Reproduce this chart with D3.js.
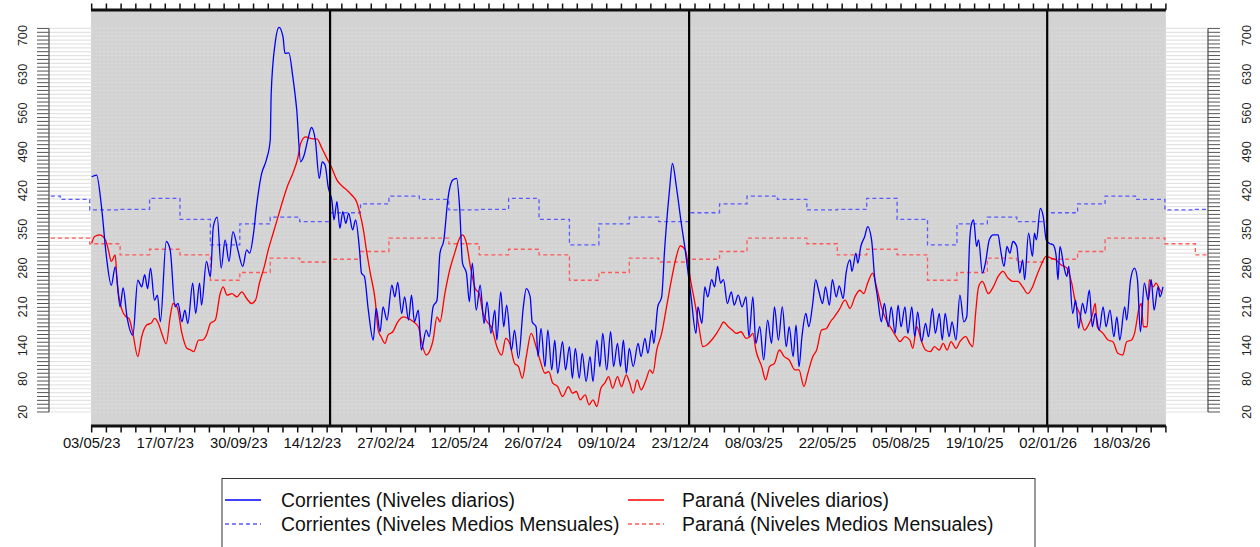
<!DOCTYPE html>
<html><head><meta charset="utf-8">
<script src="https://cdn.jsdelivr.net/npm/d3@7"></script>
<style>
body{margin:0;background:#fff}
svg{display:block;font-family:"Liberation Sans",Arial,Helvetica,sans-serif}
</style>
</head><body>
<svg id="chart" width="1260" height="547"></svg>
<script>
// ---------------- DATA ----------------
const seriesStart = "2023-05-03";            // day 0 of the daily series
const domainStart = "2023-05-02";
const domainEnd   = "2026-05-02";
// [day since seriesStart, level cm]
const corrientesDaily = [[0,445],[5,448],[10,391],[15,301],[20,249],[24,282],[29,210],[32,244],[36,192],[42,159],[47,258],[51,246],[54,268],[57,243],[60,280],[64,222],[67,231],[70,183],[76,328],[80,313],[85,210],[88,216],[92,183],[95,204],[98,180],[103,253],[106,198],[110,253],[112,213],[117,292],[121,264],[124,355],[128,372],[132,280],[136,331],[140,292],[144,346],[149,313],[154,283],[158,313],[161,307],[165,343],[168,391],[173,449],[178,475],[182,511],[183,596],[187,686],[191,715],[195,698],[197,668],[201,669],[205,626],[209,566],[213,472],[216,481],[221,517],[224,534],[228,511],[232,442],[235,472],[238,466],[241,427],[245,400],[247,367],[250,400],[253,352],[256,382],[259,361],[262,379],[266,349],[269,367],[273,313],[275,271],[278,265],[282,204],[287,150],[290,207],[294,165],[297,210],[301,186],[306,249],[309,228],[312,254],[316,198],[319,228],[323,186],[326,231],[329,183],[333,204],[336,132],[341,168],[344,156],[348,210],[352,222],[355,307],[359,331],[363,403],[368,439],[372,442],[375,391],[378,289],[382,271],[385,219],[388,289],[392,204],[396,249],[400,180],[403,219],[407,162],[411,204],[413,150],[417,237],[420,174],[423,213],[428,132],[431,168],[435,117],[440,210],[443,243],[447,228],[449,183],[453,174],[455,120],[458,171],[462,102],[465,168],[469,96],[472,150],[475,90],[480,147],[483,96],[487,138],[490,81],[493,135],[497,81],[500,126],[504,75],[508,120],[511,75],[515,150],[518,102],[521,162],[525,96],[529,165],[532,102],[536,144],[539,102],[542,150],[545,90],[548,135],[552,102],[557,144],[560,120],[564,153],[567,126],[571,168],[573,144],[577,210],[581,228],[584,313],[589,421],[592,469],[596,427],[601,361],[605,313],[608,271],[611,228],[616,162],[618,210],[622,180],[625,246],[628,228],[632,259],[635,246],[638,283],[641,253],[644,259],[648,216],[652,237],[655,213],[659,231],[663,210],[667,228],[670,156],[674,228],[677,144],[681,174],[685,114],[689,186],[693,144],[696,210],[700,150],[704,210],[708,138],[711,174],[715,120],[718,177],[721,102],[724,156],[728,198],[731,174],[735,216],[738,259],[741,240],[745,216],[748,246],[752,213],[755,259],[759,228],[762,248],[766,225],[769,271],[773,295],[775,274],[779,307],[781,289],[784,319],[788,337],[791,355],[795,331],[798,265],[801,228],[805,183],[808,216],[812,174],[815,210],[819,162],[822,213],[825,174],[829,210],[832,162],[836,210],[839,156],[842,201],[846,147],[850,180],[853,156],[857,207],[860,162],[864,198],[867,150],[870,198],[874,156],[877,183],[881,150],[885,231],[889,183],[892,192],[895,331],[897,361],[899,367],[902,319],[904,331],[908,271],[911,289],[915,331],[919,340],[924,340],[926,319],[930,283],[933,319],[936,307],[939,328],[943,319],[946,271],[949,295],[951,259],[955,343],[959,301],[961,343],[963,331],[967,388],[970,373],[973,331],[976,325],[980,322],[983,304],[985,259],[987,319],[991,283],[994,265],[996,283],[1000,198],[1003,222],[1006,171],[1010,216],[1013,198],[1017,240],[1020,174],[1023,198],[1027,168],[1031,210],[1034,174],[1038,204],[1042,156],[1045,192],[1048,150],[1053,210],[1055,186],[1059,259],[1063,280],[1066,259],[1069,165],[1073,253],[1077,222],[1080,259],[1083,204],[1087,246],[1089,228],[1092,246]];
const paranaDaily = [[0,325],[3,337],[8,340],[14,331],[17,313],[20,292],[24,304],[26,253],[31,204],[35,192],[38,189],[42,162],[47,120],[51,156],[56,177],[61,181],[64,189],[68,180],[72,159],[76,143],[80,192],[83,216],[87,210],[92,162],[97,135],[101,132],[104,129],[109,150],[113,150],[117,159],[121,180],[126,186],[131,234],[134,246],[138,231],[143,234],[148,228],[153,237],[158,225],[163,216],[167,222],[171,253],[176,283],[180,313],[185,343],[190,373],[195,403],[200,430],[205,451],[210,478],[213,505],[218,517],[224,514],[230,513],[234,499],[239,481],[245,460],[250,439],[256,427],[260,421],[265,412],[270,400],[273,382],[277,349],[280,313],[284,271],[289,222],[292,168],[295,156],[299,144],[302,159],[307,165],[312,183],[318,192],[323,189],[328,183],[333,174],[337,141],[341,123],[345,132],[348,150],[352,192],[355,183],[360,234],[365,277],[370,307],[375,334],[378,340],[382,325],[386,283],[391,243],[395,234],[399,198],[403,183],[408,171],[413,138],[418,123],[422,153],[426,144],[431,108],[435,102],[439,81],[443,120],[448,162],[453,138],[457,114],[462,90],[466,93],[470,72],[475,66],[480,48],[486,66],[490,54],[494,57],[498,42],[503,51],[507,33],[511,42],[515,30],[519,63],[523,72],[527,84],[531,63],[536,84],[540,66],[545,87],[548,75],[552,54],[556,78],[560,60],[565,78],[569,96],[572,90],[576,132],[581,162],[586,210],[591,259],[596,301],[600,320],[605,313],[608,286],[611,253],[615,216],[619,174],[623,138],[627,141],[632,150],[637,162],[641,174],[644,183],[649,174],[653,168],[657,162],[662,165],[667,153],[671,156],[674,162],[677,132],[683,102],[687,78],[691,102],[696,108],[701,132],[706,120],[711,114],[717,96],[721,96],[726,66],[730,90],[735,120],[739,132],[744,168],[749,171],[753,183],[757,192],[762,205],[768,222],[773,207],[778,228],[783,240],[787,234],[791,253],[796,271],[800,246],[805,210],[810,186],[815,171],[820,156],[824,147],[829,156],[834,150],[837,135],[841,174],[846,147],[850,132],[855,129],[859,138],[864,132],[868,144],[872,132],[876,147],[881,135],[885,147],[891,156],[895,144],[898,138],[901,198],[904,246],[908,256],[914,234],[919,246],[924,265],[929,274],[934,262],[939,256],[944,256],[949,246],[954,234],[959,246],[963,265],[968,286],[973,301],[978,298],[983,295],[988,286],[994,280],[999,253],[1003,216],[1007,198],[1012,168],[1016,177],[1020,195],[1023,216],[1025,174],[1031,162],[1036,150],[1041,147],[1046,126],[1051,123],[1055,147],[1060,150],[1063,162],[1068,210],[1070,216],[1072,174],[1076,174],[1078,259],[1082,246],[1085,253],[1089,240],[1091,234]];
// long-term monthly mean levels, Jan..Dec
const corrientesMonthly = [380,396,410,404,385,386,406,368,322,360,372,364];
const paranaMonthly     = [296,310,334,334,324,304,314,304,258,272,298,291];
const monthlyFrom = "2023-03-01";
const monthlyTo   = "2026-07-01";
const yTickLabels = [20,80,140,210,280,350,420,490,560,630,700];
const yMinorFrom = 20, yMinorTo = 713, yMinorStep = 7;
const xTickStepDays = 15, xLabelEvery = 5;
const yearLines = ["2024-01-01","2025-01-01","2026-01-01"];
const legendItems = [
  {label:"Corrientes (Niveles diarios)", color:"#0000ff", dash:null},
  {label:"Corrientes (Niveles Medios Mensuales)", color:"#5a5aff", dash:"4,3"},
  {label:"Paraná (Niveles diarios)", color:"#ff0000", dash:null},
  {label:"Paraná (Niveles Medios Mensuales)", color:"#ff5a5a", dash:"4,3"}
];

// ---------------- LAYOUT ----------------
const svg = d3.select("#chart");
const P = {left:91, right:1165.9, top:10, bottom:426};
const axL = 49, axR = 1208;

const parse = d3.utcParse("%Y-%m-%d");
const x = d3.scaleUtc().domain([parse(domainStart), parse(domainEnd)]).range([90.7, 1165.9]);
const y = d3.scaleLinear().domain([-5.3, 746.3]).range([P.bottom, P.top]);
const t0 = parse(seriesStart);
const toPts = arr => arr.map(([d,v]) => ({date:d3.utcDay.offset(t0,d), v}));

const defs = svg.append("defs");
defs.append("clipPath").attr("id","plotClip").append("rect")
  .attr("x",P.left).attr("y",P.top).attr("width",P.right-P.left).attr("height",P.bottom-P.top);
defs.append("clipPath").attr("id","wideClip").append("rect")
  .attr("x",axL).attr("y",0).attr("width",axR-axL).attr("height",547);

const yMinor = d3.range(yMinorFrom, yMinorTo+0.1, yMinorStep);

// grid outside plot (on white)
const gOut = svg.append("g");
yMinor.forEach(v=>{
  gOut.append("line").attr("x1",axL).attr("x2",P.left).attr("y1",y(v)).attr("y2",y(v))
    .attr("stroke","#e3e3e3").attr("stroke-width",1.2);
  gOut.append("line").attr("x1",P.right).attr("x2",axR).attr("y1",y(v)).attr("y2",y(v))
    .attr("stroke","#e3e3e3").attr("stroke-width",1.2);
});
// plot background
svg.append("rect").attr("x",P.left).attr("y",P.top).attr("width",P.right-P.left).attr("height",P.bottom-P.top)
  .attr("fill","#d3d3d3");
// grid inside plot
const gIn = svg.append("g");
yMinor.forEach(v=>{
  gIn.append("line").attr("x1",P.left).attr("x2",P.right).attr("y1",y(v)).attr("y2",y(v))
    .attr("stroke","#dddddd").attr("stroke-width",1).attr("stroke-dasharray","2,2");
});

// monthly means (step)
function monthly(clim){
  return d3.utcMonth.range(parse(monthlyFrom), d3.utcMonth.offset(parse(monthlyTo),1))
    .map(m=>({date:m, v:clim[m.getUTCMonth()]}));
}
const stepLine = d3.line().x(d=>x(d.date)).y(d=>y(d.v)).curve(d3.curveStepAfter);
const gM = svg.append("g").attr("clip-path","url(#wideClip)");
gM.append("path").attr("d",stepLine(monthly(corrientesMonthly))).attr("fill","none")
  .attr("stroke","#5a5aff").attr("stroke-width",1.3).attr("stroke-dasharray","4,3");
gM.append("path").attr("d",stepLine(monthly(paranaMonthly))).attr("fill","none")
  .attr("stroke","#ff5a5a").attr("stroke-width",1.3).attr("stroke-dasharray","4,3");

// daily lines
const line = d3.line().x(d=>x(d.date)).y(d=>y(d.v)).curve(d3.curveMonotoneX);
const gD = svg.append("g").attr("clip-path","url(#plotClip)");
gD.append("path").attr("d",line(toPts(paranaDaily))).attr("fill","none")
  .attr("stroke","#ff0000").attr("stroke-width",1.3).attr("stroke-linejoin","round");
gD.append("path").attr("d",line(toPts(corrientesDaily))).attr("fill","none")
  .attr("stroke","#0000ff").attr("stroke-width",1.3).attr("stroke-linejoin","round");

// year separators
yearLines.forEach(s=>{
  svg.append("line").attr("x1",x(parse(s))).attr("x2",x(parse(s))).attr("y1",P.top).attr("y2",P.bottom)
    .attr("stroke","#000").attr("stroke-width",2.2);
});

// x axes (top & bottom)
const xTicks = d3.utcDay.range(t0, d3.utcDay.offset(parse(domainEnd),1), xTickStepDays);
const fmt = d3.utcFormat("%d/%m/%y");
[[P.bottom,1],[P.top,-1]].forEach(([yy,dir])=>{
  const g = svg.append("g");
  g.append("line").attr("x1",P.left).attr("x2",P.right).attr("y1",yy).attr("y2",yy)
    .attr("stroke","#111").attr("stroke-width",3);
  xTicks.forEach(t=>{
    g.append("line").attr("x1",x(t)).attr("x2",x(t)).attr("y1",yy).attr("y2",yy+dir*6.5)
      .attr("stroke","#111").attr("stroke-width",1.5);
  });
});
const gXL = svg.append("g");
xTicks.forEach((t,i)=>{
  if(i % xLabelEvery === 0){
    gXL.append("text").attr("x",x(t)).attr("y",448).attr("text-anchor","middle")
      .attr("font-size",14.8).attr("fill","#111").text(fmt(t));
  }
});

// y axes (left and right, detached)
function yAxis(ax, dir, labX){
  const g = svg.append("g");
  g.append("line").attr("x1",ax).attr("x2",ax).attr("y1",y(yMinorFrom)).attr("y2",y(yMinor[yMinor.length-1]))
    .attr("stroke","#555").attr("stroke-width",1.3);
  yMinor.forEach(v=>{
    g.append("line").attr("x1",ax).attr("x2",ax+dir*12).attr("y1",y(v)).attr("y2",y(v))
      .attr("stroke","#555").attr("stroke-width",1);
  });
  yTickLabels.forEach(v=>{
    g.append("text").attr("transform",`translate(${labX},${y(v)}) rotate(-90)`)
      .attr("text-anchor","middle").attr("dy","0.36em").attr("font-size",12.8).attr("fill","#222").text(v);
  });
}
yAxis(axL,-1,22);
yAxis(axR,1,1246);

// legend
const lg = svg.append("g");
lg.append("rect").attr("x",222).attr("y",478.5).attr("width",813).attr("height",90)
  .attr("fill","#fff").attr("stroke","#333").attr("stroke-width",1);
const cols = [[225,281],[628,682]], rows=[500,524];
legendItems.forEach((it,i)=>{
  const c = cols[Math.floor(i/2)], r = rows[i%2];
  const l = lg.append("line").attr("x1",c[0]).attr("x2",c[0]+36).attr("y1",r).attr("y2",r)
    .attr("stroke",it.color).attr("stroke-width",1.3);
  if(it.dash) l.attr("stroke-dasharray",it.dash);
  lg.append("text").attr("x",c[1]).attr("y",r).attr("dy","0.35em").attr("font-size",19.4)
    .attr("fill","#111").text(it.label);
});
</script>
</body></html>
